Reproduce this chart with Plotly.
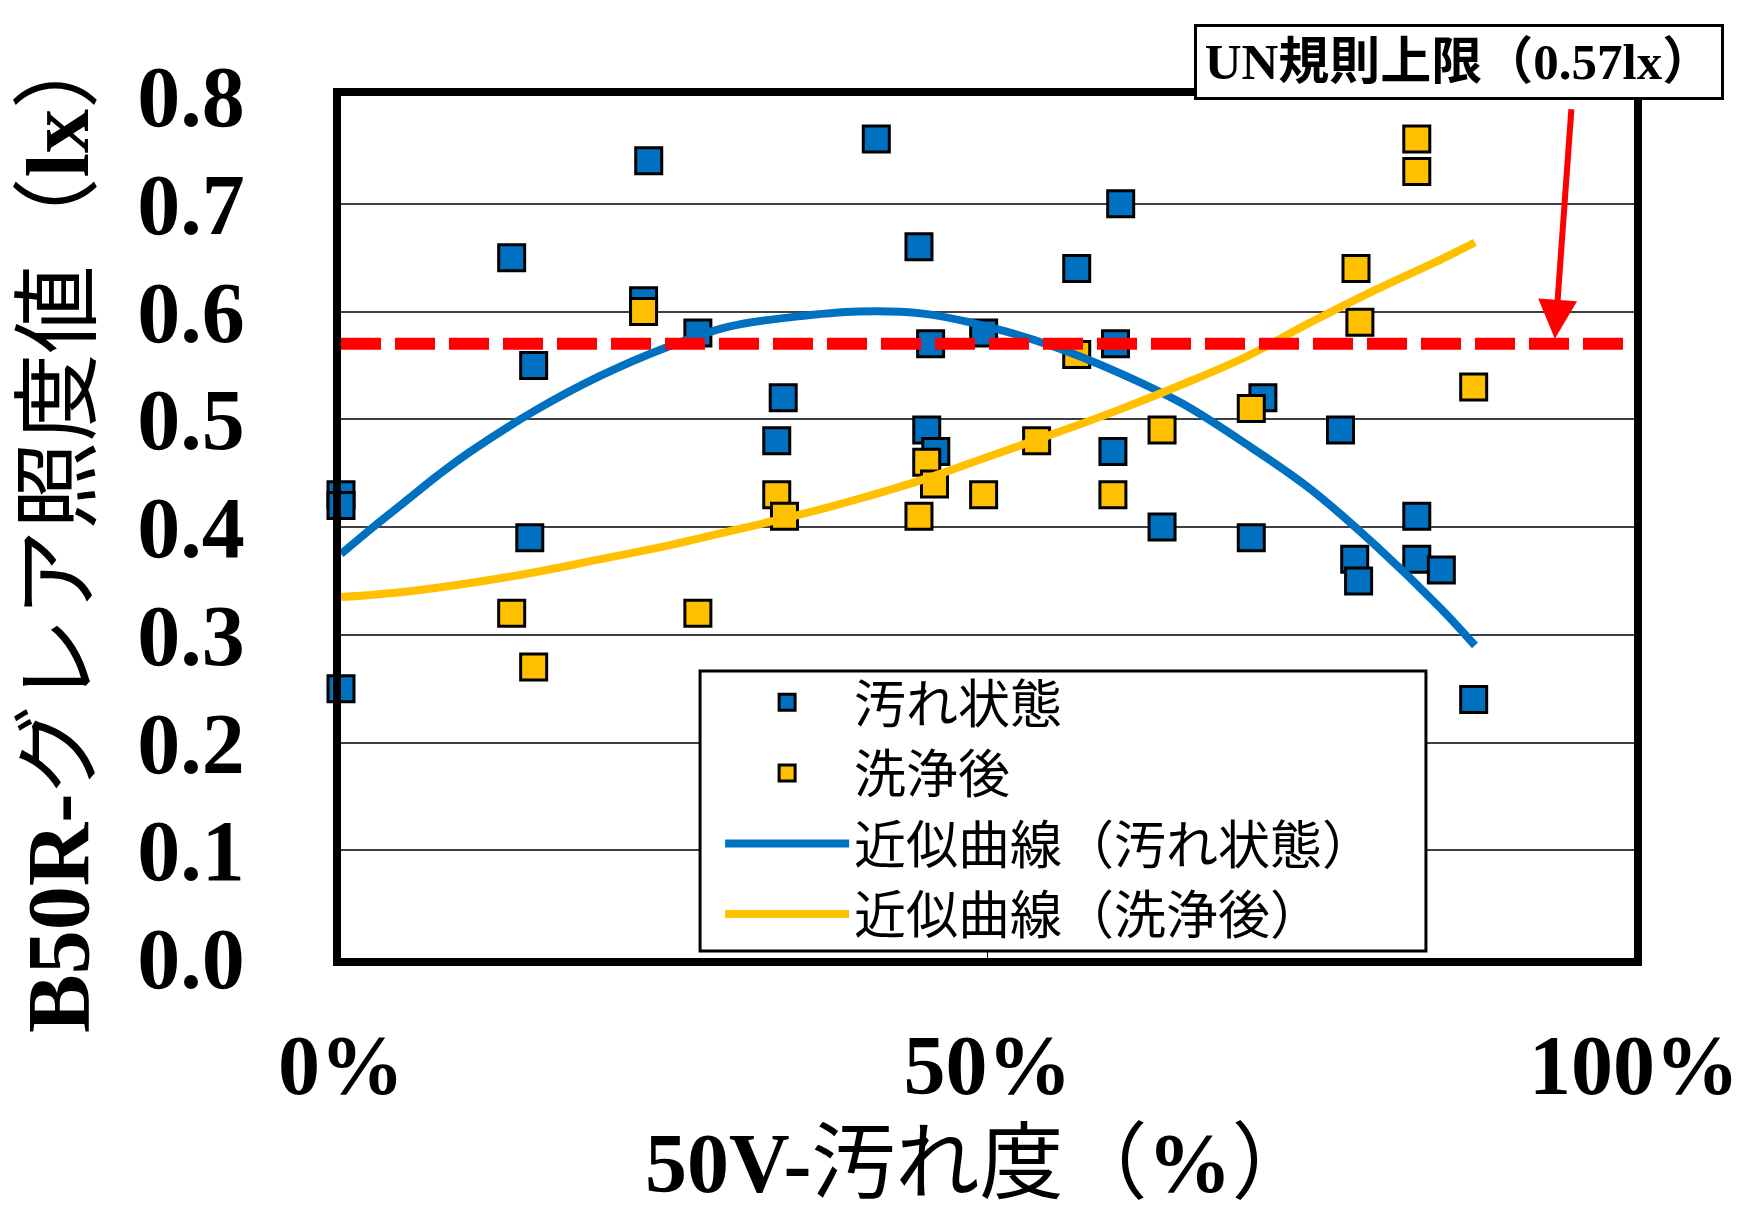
import plotly.graph_objects as go

# --- Measured points: 50V soiling degree [%] vs B50R glare illuminance [lx] ---
# 汚れ状態 (before cleaning)
soiled_x = [0, 0, 0, 13.2, 14.9, 14.6, 23.8, 23.4, 27.6, 34.2, 33.7,
            41.4, 44.7, 45.6, 45.3, 46.0, 49.7, 56.9, 60.3, 59.9, 59.7,
            63.5, 71.3, 70.4, 77.3, 78.4, 78.7, 83.2, 83.2, 85.1, 87.6]
soiled_y = [0.43, 0.42, 0.25, 0.65, 0.55, 0.39, 0.74, 0.61, 0.58, 0.52, 0.48,
            0.76, 0.66, 0.57, 0.49, 0.47, 0.58, 0.64, 0.70, 0.57, 0.47,
            0.40, 0.52, 0.39, 0.49, 0.37, 0.35, 0.41, 0.37, 0.36, 0.24]

# 洗浄後 (after cleaning)
cleaned_x = [13.2, 14.9, 23.4, 27.6, 33.7, 34.3, 44.7, 45.3, 45.9, 49.7,
             53.8, 56.9, 59.7, 63.5, 70.4, 78.5, 78.8, 83.2, 83.2, 87.6]
cleaned_y = [0.32, 0.27, 0.60, 0.32, 0.43, 0.41, 0.41, 0.46, 0.44, 0.43,
             0.48, 0.56, 0.43, 0.49, 0.51, 0.64, 0.59, 0.76, 0.73, 0.53]

# Approximation curves (trend lines)
soiled_fit_x = [0, 2.5, 5, 7.5, 10, 15, 20, 25, 30, 35, 40, 45, 50, 55,
                60, 65, 70, 75, 80, 85, 87.7]
soiled_fit_y = [0.375, 0.400, 0.424, 0.448, 0.470, 0.508, 0.540, 0.566,
                0.586, 0.595, 0.600, 0.598, 0.586, 0.568, 0.544, 0.515,
                0.477, 0.435, 0.383, 0.325, 0.290]

cleaned_fit_x = [0, 5, 10, 15, 20, 25, 30, 35, 40, 45, 50, 55, 60, 65,
                 70, 75, 80, 85, 87.7]
cleaned_fit_y = [0.335, 0.340, 0.348, 0.358, 0.370, 0.382, 0.396, 0.410,
                 0.426, 0.444, 0.465, 0.486, 0.508, 0.532, 0.558, 0.590,
                 0.620, 0.648, 0.664]

# UN regulation upper limit
un_limit = 0.57
un_label = "UN規則上限（0.57lx）"

x_ticks = [0, 50, 100]
x_tick_text = ["0%", "50%", "100%"]
y_ticks = [0.0, 0.1, 0.2, 0.3, 0.4, 0.5, 0.6, 0.7, 0.8]

x_title = "<b>50V-</b>汚れ度（<b>%</b>）"
y_title = "<b>B50R-</b>グレア照度値（<b>lx</b>）"

BLUE = "#0070C0"
YELLOW = "#FFC000"
FONT = "Liberation Serif, Noto Sans CJK JP"

fig = go.Figure()

fig.add_trace(go.Scatter(
    x=soiled_x, y=soiled_y, mode="markers", name="汚れ状態",
    marker=dict(symbol="square", size=26, color=BLUE,
                line=dict(color="black", width=3)),
    cliponaxis=False,
))
fig.add_trace(go.Scatter(
    x=cleaned_x, y=cleaned_y, mode="markers", name="洗浄後",
    marker=dict(symbol="square", size=26, color=YELLOW,
                line=dict(color="black", width=3)),
    cliponaxis=False,
))
fig.add_trace(go.Scatter(
    x=soiled_fit_x, y=soiled_fit_y, mode="lines", name="近似曲線（汚れ状態）",
    line=dict(color=BLUE, width=8, shape="spline"),
))
fig.add_trace(go.Scatter(
    x=cleaned_fit_x, y=cleaned_fit_y, mode="lines", name="近似曲線（洗浄後）",
    line=dict(color=YELLOW, width=8, shape="spline"),
))

# dashed limit line
fig.add_shape(type="line", xref="x", yref="y", x0=0, x1=100,
              y0=un_limit, y1=un_limit, layer="above",
              line=dict(color="#FF0000", width=12, dash="40px,14px"))

# legend frame (opaque box behind the legend entries)
fig.add_shape(type="rect", xref="paper", yref="paper",
              x0=0.2777, x1=0.8391, y0=0.0081, y1=0.333, layer="above",
              fillcolor="white", line=dict(color="black", width=3))

# limit label box
fig.add_annotation(
    xref="paper", yref="paper", x=0.8643, y=1.0394,
    xanchor="center", yanchor="middle",
    text="<b>" + un_label + "</b>", showarrow=False,
    font=dict(family=FONT, size=51, color="black"),
    bgcolor="white", bordercolor="black", borderwidth=3, borderpad=0,
    width=524, height=70,
)
# arrow pointing to the limit line
fig.add_annotation(
    xref="x", yref="y", x=93.85, y=un_limit,
    ax=17, ay=-236, text="", showarrow=True,
    arrowcolor="#FF0000", arrowwidth=6, arrowhead=2, arrowsize=1.3,
    standoff=5,
)

# x-axis title, placed below the tick labels
fig.add_annotation(
    xref="paper", yref="paper", x=0.4944, y=-0.238,
    xanchor="center", yanchor="middle",
    text=x_title, showarrow=False,
    font=dict(family=FONT, size=84, color="black"),
)

fig.update_layout(
    template="none",
    width=1749, height=1219,
    margin=dict(l=341, r=115, t=96, b=261, pad=0),
    paper_bgcolor="white", plot_bgcolor="white",
    font=dict(family=FONT, color="black"),
    showlegend=True,
    legend=dict(
        x=0.2932, y=0.3434, xanchor="left", yanchor="top",
        bgcolor="rgba(0,0,0,0)", borderwidth=0,
        font=dict(family=FONT, size=52, color="black"),
        itemwidth=124, tracegroupgap=0,
    ),
)

fig.update_xaxes(
    range=[0, 100], tickvals=x_ticks, ticktext=x_tick_text,
    showgrid=False, zeroline=False,
    showline=True, linecolor="black", linewidth=8, mirror=True,
    ticks="inside", ticklen=10, tickwidth=1, tickcolor="black",
    tickfont=dict(family="Liberation Serif", size=84, weight="bold"),
    ticklabelstandoff=27,
    automargin=False,
)
fig.update_yaxes(
    range=[0, 0.8], tickvals=y_ticks, tickformat=".1f",
    showgrid=True, gridcolor="#404040", gridwidth=1.5,
    zeroline=False,
    showline=True, linecolor="black", linewidth=8, mirror=True,
    ticks="",
    tickfont=dict(family="Liberation Serif", size=86, weight="bold"),
    ticklabelstandoff=71,
    automargin=False,
    title=dict(text=y_title, font=dict(family=FONT, size=88), standoff=22),
)

fig.write_html("out.html")
